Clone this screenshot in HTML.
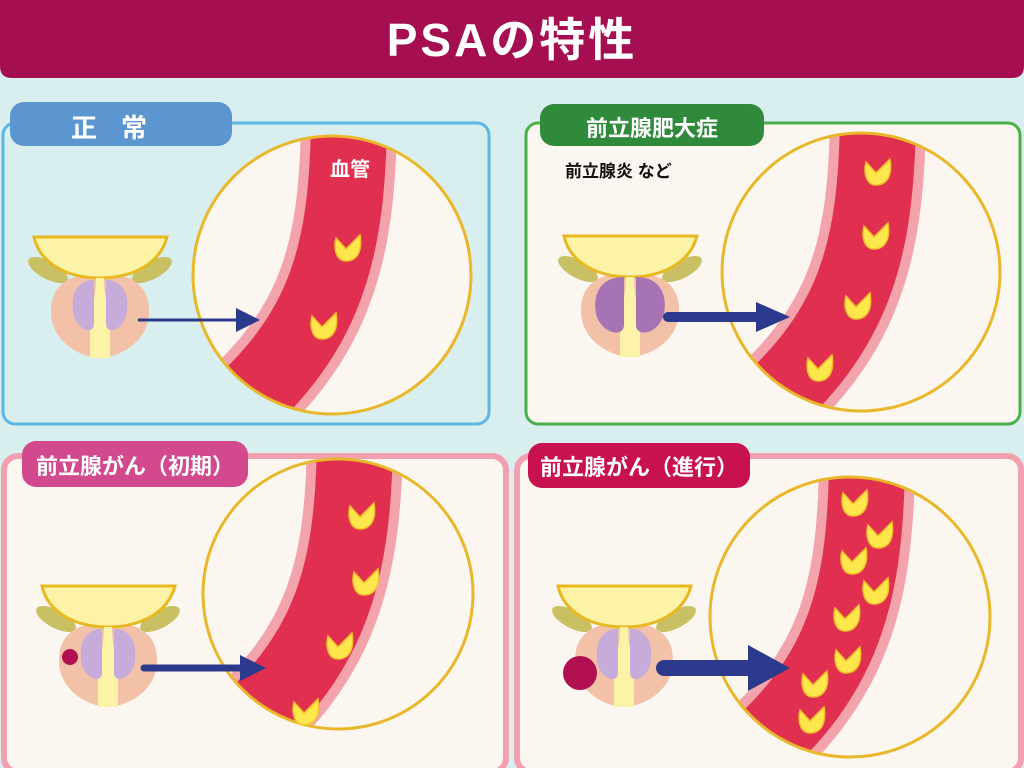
<!DOCTYPE html>
<html><head><meta charset="utf-8"><style>
html,body{margin:0;padding:0;width:1024px;height:768px;overflow:hidden;background:#d9eeee}
svg{display:block}
text{font-family:"Liberation Sans","Noto Sans CJK JP",sans-serif;font-weight:bold}
</style></head><body>
<svg width="1024" height="768" viewBox="0 0 1024 768" xmlns="http://www.w3.org/2000/svg">
<defs>
<g id="cell"><path d="M -12,-10 L -2,1 L 12,-13 C 15,6 7,13 -2,13 C -11,13 -15,2 -12,-10 Z" fill="#fde74c" stroke="#f2c22a" stroke-width="1.5"/></g>
<g id="vessel">
<path d="M 17,-160 C 16,-10 -10,70 -125,160" fill="none" stroke="#f2a3ab" stroke-width="96"/>
<path d="M 17,-160 C 16,-10 -10,70 -125,160" fill="none" stroke="#e12f50" stroke-width="76"/>
</g>
<g id="pros">
<ellipse cx="-52" cy="-30" rx="22" ry="9" transform="rotate(28 -52 -30)" fill="#c8c062"/>
<ellipse cx="52" cy="-30" rx="22" ry="9" transform="rotate(-28 52 -30)" fill="#c8c062"/>
<path d="M -49,12 C -49,-20 -25,-26 0,-26 C 25,-26 49,-20 49,12 C 49,40 22,57 0,58 C -22,57 -49,40 -49,12 Z" fill="#f2c1a8"/>
<path d="M -66,-63 L 67,-63 C 60,-36 32,-22 0,-22 C -32,-22 -60,-36 -66,-63 Z" fill="#fcf3a6" stroke="#e8b820" stroke-width="3"/>
<path d="M -4,-22 L 4,-22 C 4,0 10,12 10,30 L 10,58 L -10,58 L -10,30 C -10,12 -4,0 -4,-22 Z" fill="#fcf2a8"/>
</g>
<g id="lobes"><path d="M -6,-20 C -26,-20 -30,0 -26,16 C -21,32 -6,34 -6,24 Z" fill="#c7abd8"/><path d="M 6,-20 C 26,-20 30,0 26,16 C 21,32 6,34 6,24 Z" fill="#c7abd8"/></g>
<g id="lobes2"><path d="M -6,-22 C -34,-22 -38,2 -33,18 C -26,36 -6,38 -6,26 Z" fill="#a673b4"/><path d="M 6,-22 C 34,-22 38,2 33,18 C 26,36 6,38 6,26 Z" fill="#a673b4"/></g>
<clipPath id="c1"><circle cx="332" cy="275" r="139"/></clipPath>
<clipPath id="c2"><circle cx="861" cy="272" r="139"/></clipPath>
<clipPath id="c3"><circle cx="338" cy="594" r="135"/></clipPath>
<clipPath id="c4"><circle cx="850" cy="617" r="140"/></clipPath>
</defs>

<path d="M0,0 H1024 V66 Q1024,78 1012,78 H12 Q0,78 0,66 Z" fill="#a50f52"/>
<text x="512" y="56" font-size="46" fill="#fff" text-anchor="middle" letter-spacing="3">PSAの特性</text>

<rect x="3" y="123" width="486" height="301" rx="12" fill="#d9eeee" stroke="#5cb6e6" stroke-width="3"/>
<rect x="10" y="102" width="222" height="44" rx="14" fill="#5b96d0"/>
<text x="121" y="137" font-size="26" fill="#fff" text-anchor="middle" letter-spacing="24">正常</text>
<circle cx="332" cy="275" r="139" fill="#fbf7f0"/>
<g clip-path="url(#c1)"><use href="#vessel" transform="translate(332,275)"/></g>
<circle cx="332" cy="275" r="139" fill="none" stroke="#e8b82a" stroke-width="3"/>
<text x="350" y="176" font-size="20" fill="#fff" text-anchor="middle">血管</text>
<use href="#cell" transform="translate(348,248)"/>
<use href="#cell" transform="translate(324,326)"/>
<use href="#pros" transform="translate(100,300)"/><use href="#lobes" transform="translate(100,300)"/>
<line x1="138" y1="320" x2="238" y2="320" stroke="#2b3a8c" stroke-width="3"/>
<polygon points="236,308 260,320 236,332" fill="#2b3a8c"/>

<rect x="526" y="123" width="494" height="301" rx="12" fill="#fbf7f0" stroke="#4caf4c" stroke-width="3"/>
<rect x="540" y="104" width="224" height="42" rx="14" fill="#2f8a3c"/>
<text x="652" y="136" font-size="22" fill="#fff" text-anchor="middle">前立腺肥大症</text>
<text x="565" y="177" font-size="17" fill="#111">前立腺炎 など</text>
<circle cx="861" cy="272" r="139" fill="#fbf7f0"/>
<g clip-path="url(#c2)"><use href="#vessel" transform="translate(861,272)"/></g>
<circle cx="861" cy="272" r="139" fill="none" stroke="#e8b82a" stroke-width="3"/>
<use href="#cell" transform="translate(878,172)"/>
<use href="#cell" transform="translate(876,236)"/>
<use href="#cell" transform="translate(858,306)"/>
<use href="#cell" transform="translate(820,368)"/>
<use href="#pros" transform="translate(630,299)"/><use href="#lobes2" transform="translate(630,299)"/>
<line x1="668" y1="317" x2="760" y2="317" stroke="#2b3a8c" stroke-width="10" stroke-linecap="round"/>
<polygon points="756,302 790,317 756,332" fill="#2b3a8c"/>

<rect x="4" y="456" width="502" height="316" rx="14" fill="#fbf7f0" stroke="#f2a0b0" stroke-width="6"/>
<rect x="22" y="441" width="226" height="46" rx="14" fill="#d24a8d"/>
<text x="135" y="474" font-size="22" fill="#fff" text-anchor="middle">前立腺がん（初期）</text>
<circle cx="338" cy="594" r="135" fill="#fbf7f0"/>
<g clip-path="url(#c3)"><use href="#vessel" transform="translate(338,594)"/></g>
<circle cx="338" cy="594" r="135" fill="none" stroke="#e8b82a" stroke-width="3"/>
<use href="#cell" transform="translate(362,516)"/>
<use href="#cell" transform="translate(366,582)"/>
<use href="#cell" transform="translate(340,646)"/>
<use href="#cell" transform="translate(306,712)"/>
<use href="#pros" transform="translate(108,649)"/><use href="#lobes" transform="translate(108,649)"/>
<circle cx="70" cy="657" r="8" fill="#b0104f"/>
<line x1="144" y1="668" x2="244" y2="668" stroke="#2b3a8c" stroke-width="7" stroke-linecap="round"/>
<polygon points="240,655 266,668 240,681" fill="#2b3a8c"/>

<rect x="517" y="456" width="504" height="316" rx="14" fill="#fbf7f0" stroke="#f2a0b0" stroke-width="6"/>
<rect x="528" y="443" width="222" height="45" rx="14" fill="#c8114f"/>
<text x="639" y="475" font-size="22" fill="#fff" text-anchor="middle">前立腺がん（進行）</text>
<circle cx="850" cy="617" r="140" fill="#fbf7f0"/>
<g clip-path="url(#c4)"><use href="#vessel" transform="translate(850,617)"/></g>
<circle cx="850" cy="617" r="140" fill="none" stroke="#e8b82a" stroke-width="3"/>
<use href="#cell" transform="translate(855,503)"/>
<use href="#cell" transform="translate(880,535)"/>
<use href="#cell" transform="translate(854,561)"/>
<use href="#cell" transform="translate(876,591)"/>
<use href="#cell" transform="translate(847,618)"/>
<use href="#cell" transform="translate(848,660)"/>
<use href="#cell" transform="translate(815,684)"/>
<use href="#cell" transform="translate(812,720)"/>
<use href="#pros" transform="translate(624,649)"/><use href="#lobes" transform="translate(624,649)"/>
<circle cx="580" cy="673" r="17" fill="#b0104f"/>
<line x1="664" y1="668" x2="752" y2="668" stroke="#2b3a8c" stroke-width="16" stroke-linecap="round"/>
<polygon points="748,645 790,668 748,691" fill="#2b3a8c"/>
</svg>
</body></html>
